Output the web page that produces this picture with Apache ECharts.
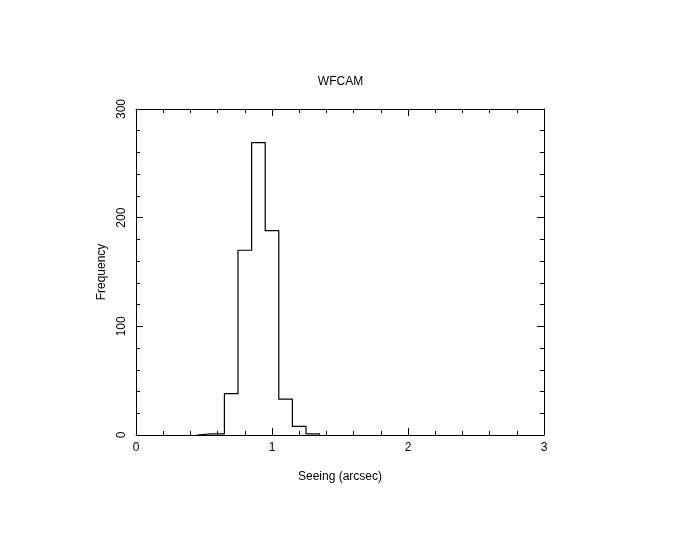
<!DOCTYPE html>
<html>
<head>
<meta charset="utf-8">
<script src="https://cdn.jsdelivr.net/npm/echarts@6/dist/echarts.min.js"></script>
<style>html,body{margin:0;padding:0;background:#fff}#c{width:681px;height:545px}</style>
</head>
<body>
<div id="c"></div>
<script>
// Histogram bin edges (arcsec) and counts per bin
var binEdges = [0.45, 0.55, 0.65, 0.75, 0.85, 0.95, 1.05, 1.15, 1.25, 1.35];
var binCounts = [1, 1, 38, 170, 269, 188, 33, 8, 1];
var xTicks = [0, 1, 2, 3];
var yTicks = [0, 100, 200, 300];

var stepData = [[binEdges[0], 0]];
for (var i = 0; i < binCounts.length; i++) stepData.push([binEdges[i], binCounts[i]]);
stepData.push([binEdges[binEdges.length - 1], 0]);

var font = 'Liberation Sans';
function axisCommon(showLabel) {
  return {
    axisLine: {show: true, onZero: false, lineStyle: {color: '#000', width: 1}},
    axisTick: {show: true, inside: true, length: 7, lineStyle: {color: '#000'}},
    minorTick: {show: true, splitNumber: 5, length: 4, lineStyle: {color: '#000'}},
    splitLine: {show: false},
    minorSplitLine: {show: false},
    axisLabel: {show: showLabel, color: '#000', fontFamily: font, fontSize: 12}
  };
}
var chart = echarts.init(document.getElementById('c'), null, {renderer: 'canvas'});
var xa0 = Object.assign(axisCommon(true), {type: 'value', min: xTicks[0], max: xTicks[xTicks.length-1], interval: 1, position: 'bottom',
  name: 'Seeing (arcsec)', nameLocation: 'middle', nameGap: 36, nameTextStyle: {color: '#000', fontFamily: font, fontSize: 12}});
xa0.axisLabel.margin = 7;
var xa1 = Object.assign(axisCommon(false), {type: 'value', min: 0, max: 3, interval: 1, position: 'top'});
var ya0 = Object.assign(axisCommon(true), {type: 'value', min: yTicks[0], max: yTicks[yTicks.length-1], interval: 100, position: 'left',
  name: 'Frequency', nameLocation: 'middle', nameGap: 27, nameTextStyle: {color: '#000', fontFamily: font, fontSize: 12}});
ya0.axisLabel.rotate = 90; ya0.axisLabel.margin = 8;
var ya1 = Object.assign(axisCommon(false), {type: 'value', min: 0, max: 300, interval: 100, position: 'right'});

chart.setOption({
  animation: false,
  backgroundColor: '#fff',
  title: {text: 'WFCAM', left: 'center', top: 71, textStyle: {color: '#000', fontFamily: font, fontSize: 12, fontWeight: 'normal'}},
  grid: {left: 136, top: 109, width: 408, height: 326},
  xAxis: [xa0, xa1],
  yAxis: [ya0, ya1],
  series: [{
    type: 'line', step: 'end', data: stepData, showSymbol: false, symbol: 'none',
    lineStyle: {color: '#000', width: 1.2}, xAxisIndex: 0, yAxisIndex: 0
  }]
});
</script>
</body>
</html>
